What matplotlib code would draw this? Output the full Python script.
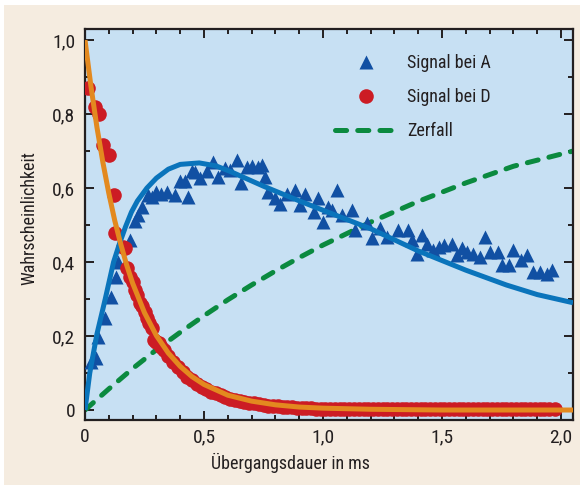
import matplotlib
matplotlib.use("Agg")
import matplotlib.pyplot as plt
from matplotlib import font_manager
from matplotlib.patches import Rectangle
from matplotlib.ticker import MultipleLocator, FixedLocator, FixedFormatter

# schmale Schrift, falls vorhanden
names = {f.name for f in font_manager.fontManager.ttflist}
narrow = [n for n in ["Liberation Sans Narrow", "Roboto Condensed", "Open Sans Condensed",
                      "Noto Sans Display"] if n in names]
plt.rcParams['font.family'] = narrow + ['DejaVu Sans']
plt.rcParams['font.stretch'] = 'condensed'
plt.rcParams['lines.scale_dashes'] = False

# Messpunkte Signal bei A (Dreiecke)
a_x = [0.025, 0.045, 0.056, 0.084, 0.108, 0.13, 0.14, 0.189, 0.21,
       0.224, 0.24, 0.265, 0.28, 0.30, 0.32, 0.343, 0.378, 0.40, 0.42, 0.434,
       0.448, 0.462, 0.483, 0.511, 0.539, 0.56, 0.588, 0.61, 0.637, 0.655,
       0.679, 0.70, 0.728, 0.742, 0.756, 0.77, 0.798, 0.819, 0.847, 0.882,
       0.903, 0.924, 0.96, 0.98, 1.0, 1.02, 1.036, 1.057, 1.078, 1.12,
       1.134, 1.183, 1.204, 1.239, 1.267, 1.316, 1.358, 1.372, 1.393, 1.415,
       1.435, 1.463, 1.485, 1.506, 1.54, 1.561, 1.583, 1.604, 1.63, 1.66,
       1.68, 1.70, 1.737, 1.75, 1.78, 1.80, 1.83, 1.856, 1.884, 1.91,
       1.94, 1.96]
a_y = [0.13, 0.14, 0.198, 0.25, 0.306, 0.36, 0.40, 0.459, 0.51,
       0.527, 0.55, 0.58, 0.575, 0.59, 0.585, 0.59, 0.58, 0.62, 0.62, 0.575,
       0.645, 0.644, 0.628, 0.646, 0.67, 0.631, 0.655, 0.649, 0.676, 0.615,
       0.658, 0.66, 0.657, 0.662, 0.631, 0.59, 0.574, 0.556, 0.585, 0.595,
       0.554, 0.585, 0.536, 0.572, 0.507, 0.55, 0.54, 0.595, 0.527, 0.54,
       0.486, 0.505, 0.464, 0.491, 0.468, 0.486, 0.486, 0.459, 0.423, 0.473,
       0.45, 0.432, 0.44, 0.446, 0.45, 0.419, 0.437, 0.426, 0.423, 0.414,
       0.468, 0.428, 0.428, 0.392, 0.392, 0.432, 0.405, 0.419, 0.374, 0.374,
       0.369, 0.378]

# Messpunkte Signal bei D (Kreise)
d_x = [0.014, 0.042, 0.06, 0.077, 0.10, 0.12, 0.128, 0.16, 0.168, 0.178,
       0.19, 0.20, 0.21, 0.22, 0.23, 0.24, 0.25, 0.26, 0.27, 0.28,
       0.29, 0.30, 0.31, 0.32,
       0.33, 0.35, 0.37, 0.39, 0.41, 0.43, 0.45, 0.47, 0.49, 0.51,
       0.53, 0.55, 0.57, 0.59, 0.61, 0.63, 0.65, 0.67, 0.69, 0.71,
       0.73, 0.75, 0.77, 0.79, 0.81, 0.83, 0.85, 0.87, 0.89, 0.91,
       0.93, 0.95, 0.97, 0.99, 1.01, 1.03, 1.05, 1.07, 1.09, 1.11,
       1.13, 1.15, 1.17, 1.19, 1.21, 1.23, 1.25, 1.27, 1.29, 1.31,
       1.33, 1.35, 1.37, 1.39, 1.41, 1.43, 1.45, 1.47, 1.49, 1.51,
       1.53, 1.55, 1.57, 1.59, 1.61, 1.63, 1.65, 1.67, 1.69, 1.71,
       1.73, 1.75, 1.77, 1.79, 1.81, 1.83, 1.85, 1.87, 1.89, 1.91,
       1.93, 1.95, 1.975]
d_y = [0.87, 0.818, 0.80, 0.716, 0.69, 0.58, 0.478, 0.44, 0.437, 0.383,
       0.36, 0.347, 0.325, 0.31, 0.29, 0.28, 0.265, 0.25, 0.235, 0.222,
       0.19, 0.183, 0.18, 0.17,
       0.162, 0.146, 0.13, 0.115, 0.102, 0.09, 0.08, 0.071, 0.063, 0.057,
       0.05, 0.045, 0.04, 0.035, 0.031, 0.028, 0.025, 0.022, 0.02, 0.018,
       0.016, 0.014, 0.012, 0.011, 0.01, 0.009, 0.008, 0.007, 0.006, 0.006,
       0.005, 0.005, 0.004, 0.004, 0.004, 0.003, 0.003, 0.004, 0.003, 0.003,
       0.004, 0.003, 0.003, 0.002, 0.003, 0.003, 0.002, 0.003, 0.002, 0.003,
       0.002, 0.002, 0.003, 0.002, 0.002, 0.003, 0.002, 0.002, 0.002, 0.003,
       0.002, 0.002, 0.002, 0.003, 0.002, 0.002, 0.002, 0.003, 0.002, 0.002,
       0.002, 0.002, 0.003, 0.002, 0.002, 0.002, 0.002, 0.003, 0.002, 0.002,
       0.002, 0.002, 0.002]

# Angepasste Kurve fuer A (blau)
fit_a_x = [0.0, 0.02, 0.05, 0.085, 0.12, 0.145, 0.17, 0.195, 0.22, 0.26, 0.30, 0.35, 0.40,
           0.48, 0.55, 0.61, 0.75, 0.89, 1.0, 1.2, 1.4, 1.6, 1.77, 1.9, 2.05]
fit_a_y = [0.0, 0.10, 0.205, 0.30, 0.40, 0.45, 0.495, 0.535, 0.565, 0.60, 0.627, 0.651, 0.664,
           0.668, 0.66, 0.645, 0.605, 0.568, 0.54, 0.49, 0.43, 0.378, 0.338, 0.312, 0.29]

# Angepasste Kurve fuer D (orange)
fit_d_x = [0.0, 0.025, 0.05, 0.075, 0.1, 0.125, 0.15, 0.175, 0.2, 0.25, 0.3, 0.35, 0.4,
           0.45, 0.5, 0.6, 0.7, 0.8, 0.9, 1.0, 1.2, 1.5, 2.05]
fit_d_y = [1.0, 0.875, 0.765, 0.67, 0.586, 0.512, 0.449, 0.392, 0.343, 0.263, 0.201,
           0.154, 0.118, 0.090, 0.069, 0.040, 0.024, 0.014, 0.008, 0.005, 0.002, 0.0, 0.0]

# Zerfall (gruen gestrichelt)
decay_x = [0.0, 0.1, 0.2, 0.3, 0.4, 0.5, 0.6, 0.7, 0.8, 0.9, 1.0, 1.2, 1.4, 1.6, 1.8, 2.05]
decay_y = [0.0, 0.057, 0.112, 0.163, 0.21, 0.255, 0.298, 0.338, 0.376, 0.412, 0.446,
           0.508, 0.564, 0.614, 0.659, 0.70]

x_ticks = [0, 0.5, 1.0, 1.5, 2.0]
x_labels = ["0", "0,5", "1,0", "1,5", "2,0"]
y_ticks = [0, 0.2, 0.4, 0.6, 0.8, 1.0]
y_labels = ["0", "0,2", "0,4", "0,6", "0,8", "1,0"]

W, H = 580, 488
fig = plt.figure(figsize=(W / 100, H / 100), dpi=100)
fig.patch.set_facecolor("white")
fig.patches.append(Rectangle((4 / W, 3 / H), 1 - 4 / W, 1 - 8 / H,
                             transform=fig.transFigure, facecolor="#f5ece0",
                             edgecolor="none", zorder=-10))

ax = fig.add_axes([85 / W, 1 - 420 / H, (573 - 85) / W, (420 - 29) / H])
ax.set_zorder(1)
ax.set_facecolor("#c7e0f3")

ax.plot(decay_x, decay_y, color="#0b8a3f", lw=3.6, dashes=(8, 8),
        dash_capstyle="round", zorder=2, label="Zerfall")
ax.plot(a_x, a_y, linestyle="none", marker="^", ms=9.5, color="#1150a3",
        mec="none", zorder=3, label="Signal bei A")
ax.plot(d_x, d_y, linestyle="none", marker="o", ms=10.5, color="#cc1c24",
        mec="none", zorder=3, label="Signal bei D")
ax.plot(fit_a_x, fit_a_y, color="#0a74bb", lw=3.6, zorder=4,
        solid_capstyle="butt", solid_joinstyle="round")
ax.plot(fit_d_x, fit_d_y, color="#e3891f", lw=3.6, zorder=5,
        solid_capstyle="butt", solid_joinstyle="round")

ax.set_xlim(0, 2.05)
ax.set_ylim(-0.027, 1.03)

ax.xaxis.set_major_locator(FixedLocator(x_ticks))
ax.xaxis.set_major_formatter(FixedFormatter(x_labels))
ax.yaxis.set_major_locator(FixedLocator(y_ticks))
ax.yaxis.set_major_formatter(FixedFormatter(y_labels))
ax.xaxis.set_minor_locator(MultipleLocator(0.1))
ax.yaxis.set_minor_locator(MultipleLocator(0.1))
ax.tick_params(which="both", direction="in", top=True, right=True,
               color="#231f20", width=1.4)
ax.tick_params(which="major", length=6.5, labelsize=14, labelcolor="#231f20")
ax.tick_params(axis="x", which="major", pad=6)
ax.tick_params(axis="y", which="major", pad=7)
ax.tick_params(which="minor", length=3.6)
for s in ax.spines.values():
    s.set_color("#231f20")
    s.set_linewidth(1.6)

ax.set_xlabel("Übergangsdauer in ms", fontsize=13, color="#231f20")
ax.set_ylabel("Wahrscheinlichkeit", fontsize=13, color="#231f20")
ax.xaxis.set_label_coords((290 - 85) / 488, (420 - 453) / 391)
ax.yaxis.set_label_coords((38 - 85) / 488, (420 - 218) / 391)

handles, labels = ax.get_legend_handles_labels()
order = [1, 2, 0]
leg = ax.legend([handles[i] for i in order], [labels[i] for i in order],
                loc="upper left", bbox_to_anchor=((335 - 85) / 488, (420 - 54) / 391),
                frameon=False, fontsize=13, handlelength=3.4,
                handletextpad=0.6, labelspacing=0.9, borderpad=0,
                borderaxespad=0)
for t in leg.get_texts():
    t.set_color("#231f20")

fig.savefig("out.png", dpi=100, facecolor=fig.get_facecolor())
